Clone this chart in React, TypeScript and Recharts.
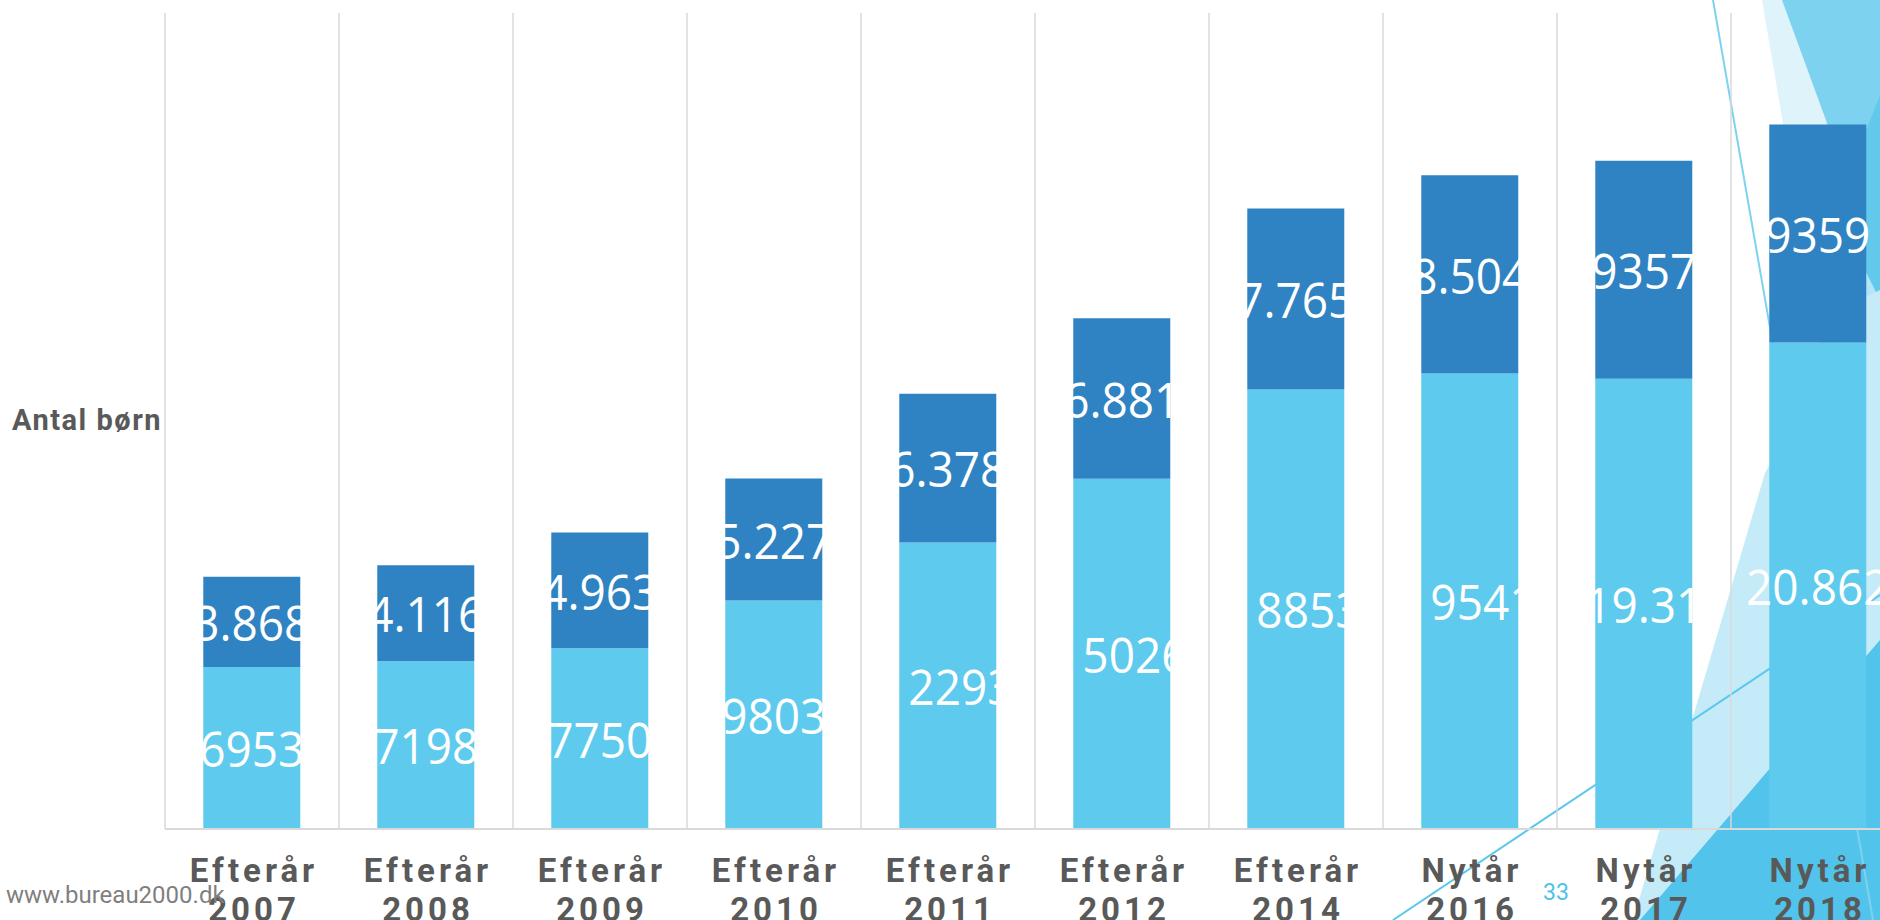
import { BarChart, Bar, XAxis, YAxis, CartesianGrid, LabelList } from 'recharts';

const periods = [
  'Efterår 2007',
  'Efterår 2008',
  'Efterår 2009',
  'Efterår 2010',
  'Efterår 2011',
  'Efterår 2012',
  'Efterår 2014',
  'Nytår 2016',
  'Nytår 2017',
  'Nytår 2018',
];
const lowerValues = [6953, 7198, 7750, 9803, 12293, 15026, 18853, 19541, 19310, 20862];
const upperValues = [3868, 4116, 4963, 5227, 6378, 6881, 7765, 8504, 9357, 9359];
const lowerLabels = ['6953', '7198', '7750', '9803', '12293', '15026', '18853', '19541', '19.31', '20.862'];
const upperLabels = ['3.868', '4.116', '4.963', '5.227', '6.378', '6.881', '7.765', '8.504', '9357', '9359'];

const data = periods.map((period, i) => ({
  period,
  lower: lowerValues[i],
  upper: upperValues[i],
}));

const LIGHT = '#5ECBEE';
const DARK = '#2F83C3';
const GRID = '#D9D9D9';
const TEXT = '#595959';

const makeLabel = (labels: string[]) => (props: any) => {
  const vb = props.viewBox && props.viewBox.width != null ? props.viewBox : props;
  const { x, y, width, height } = vb;
  const text = labels[props.index] ?? String(props.value);
  const cx = x + width / 2;
  const cy = y + height / 2;
  return (
    <text
      transform={`translate(${cx}, ${cy}) scale(0.92, 1)`}
      textAnchor="middle"
      dominantBaseline="central"
      fill="#ffffff"
      fontFamily="'Open Sans', sans-serif"
      fontSize={50}
    >
      {text}
    </text>
  );
};

const PeriodTick = ({ x, y, payload }: any) => {
  const [first, second] = String(payload.value).split(' ');
  return (
    <text
      textAnchor="middle"
      fill={TEXT}
      fontFamily="Roboto, sans-serif"
      fontWeight={700}
      fontSize={33}
      letterSpacing={4}
    >
      <tspan x={x + 2} y={y + 45}>{first}</tspan>
      <tspan x={x + 2} y={y + 84}>{second}</tspan>
    </text>
  );
};

const Decoration = () => (
  <svg width={1880} height={920} style={{ position: 'absolute', left: 0, top: 0 }}>
    <polygon points="1762,0 1880,0 1880,694" fill="#DFF3FA" />
    <polygon points="1782,0 1880,0 1880,268" fill="#7DD3EF" />
    <polygon points="1840,200 1880,280 1880,700 1800,500" fill="#B3E5F6" />
    <polygon points="1880,95 1835,210 1880,300" fill="#62C9EC" />
    <polygon points="1633,920 1765,473 1860,300 1880,290 1880,920" fill="#C5EBF8" />
    <polygon points="1640,920 1880,640 1880,920" fill="#52C3EA" />
    <line x1={1713} y1={0} x2={1873} y2={920} stroke="#7DD3EF" strokeWidth={2} />
    <line x1={1393} y1={920} x2={1880} y2={595} stroke="#5BC8EC" strokeWidth={2} />
  </svg>
);

export default function App() {
  const n = periods.length;
  return (
    <div
      style={{
        position: 'fixed',
        left: 0,
        top: 0,
        width: 1880,
        height: 920,
        overflow: 'hidden',
        background: '#ffffff',
      }}
    >
      <Decoration />
      <div style={{ position: 'absolute', left: 0, top: 0 }}>
        <BarChart
          width={1920}
          height={920}
          data={data}
          margin={{ top: 13, right: 15, left: 165, bottom: 0 }}
          barCategoryGap="22%"
        >
          <CartesianGrid
            horizontal={false}
            stroke={GRID}
            strokeWidth={1.5}
            verticalCoordinatesGenerator={({ offset }: any) =>
              Array.from({ length: n + 1 }, (_, i) => offset.left + (i * offset.width) / n)
            }
          />
          <XAxis
            dataKey="period"
            height={91}
            axisLine={{ stroke: GRID, strokeWidth: 2 }}
            tickLine={false}
            tick={<PeriodTick />}
            interval={0}
          />
          <YAxis hide domain={[0, 35000]} />
          <Bar dataKey="lower" stackId="a" fill={LIGHT} isAnimationActive={false}>
            <LabelList dataKey="lower" content={makeLabel(lowerLabels)} />
          </Bar>
          <Bar dataKey="upper" stackId="a" fill={DARK} isAnimationActive={false}>
            <LabelList dataKey="upper" content={makeLabel(upperLabels)} />
          </Bar>
        </BarChart>
      </div>
      <div
        style={{
          position: 'absolute',
          left: 12,
          top: 403,
          fontFamily: 'Roboto, sans-serif',
          fontWeight: 700,
          fontSize: 29,
          letterSpacing: 1.5,
          color: TEXT,
        }}
      >
        Antal børn
      </div>
      <div
        style={{
          position: 'absolute',
          left: 6,
          top: 881,
          fontFamily: 'Roboto, sans-serif',
          fontSize: 24,
          color: '#7F7F7F',
        }}
      >
        www.bureau2000.dk
      </div>
      <div
        style={{
          position: 'absolute',
          left: 1543,
          top: 879,
          fontFamily: 'Roboto, sans-serif',
          fontSize: 23,
          color: '#4DC3EC',
        }}
      >
        33
      </div>
    </div>
  );
}
